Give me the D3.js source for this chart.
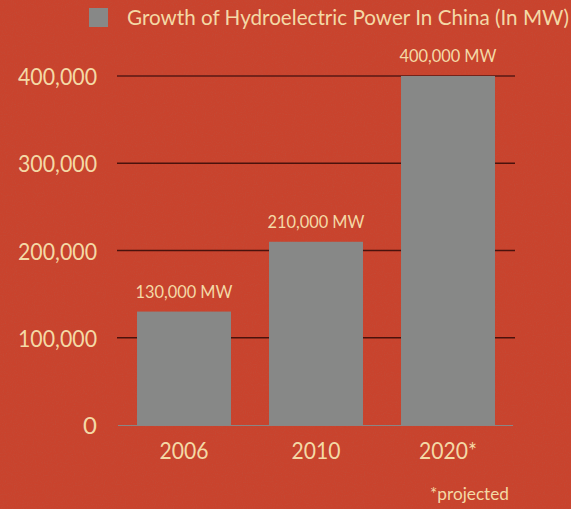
<!DOCTYPE html>
<html>
<head>
<meta charset="utf-8">
<script src="https://cdn.jsdelivr.net/npm/d3@7"></script>
<style>
  html, body { margin: 0; padding: 0; background: #c9432d; }
  svg { display: block; }
  text { font-family: "Lato", "Open Sans", sans-serif; fill: #f4d9a6; }
</style>
</head>
<body>
<script>
// Hydroelectric capacity in China, megawatts
const categories = ["2006", "2010", "2020*"];
const values = [130000, 210000, 400000];
const yTicks = [0, 100000, 200000, 300000, 400000];
const legendLabel = "Growth of Hydroelectric Power In China (In MW)";
const footnote = "*projected";

const W = 571, H = 509;
const svg = d3.select("body").append("svg").attr("width", W).attr("height", H);

// paper-like grain over the red ground
const defs = svg.append("defs");
const grain = defs.append("filter").attr("id", "grain")
  .attr("x", 0).attr("y", 0).attr("width", "100%").attr("height", "100%");
grain.append("feTurbulence").attr("type", "fractalNoise")
  .attr("baseFrequency", 0.9).attr("numOctaves", 2).attr("seed", 4).attr("result", "n");
grain.append("feColorMatrix").attr("type", "matrix")
  .attr("values", "0 0 0 0 0.45  0 0 0 0 0.12  0 0 0 0 0.08  0 0 0 -1.3 0.75");

svg.append("rect").attr("width", W).attr("height", H).attr("fill", "#c9432d");
svg.append("rect").attr("width", W).attr("height", H).attr("filter", "url(#grain)").attr("opacity", 0.35);

const x = d3.scaleBand().domain(categories).range([118, 514]).paddingInner(0.288).paddingOuter(0.144);
const y = d3.scaleLinear().domain([0, 400000]).range([425, 76]);
const fmt = d3.format(",");

// gridlines (behind bars)
svg.append("g").selectAll("line").data(yTicks.filter(t => t > 0)).join("line")
  .attr("x1", 117).attr("x2", 515)
  .attr("y1", d => y(d)).attr("y2", d => y(d))
  .attr("stroke", d => d === 400000 ? "#74231a" : "#4a120c")
  .attr("stroke-width", d => d === 400000 ? 2 : 1.5);

// baseline
svg.append("line").attr("x1", 118).attr("x2", 513)
  .attr("y1", y(0) + 0.5).attr("y2", y(0) + 0.5)
  .attr("stroke", "#8a8685").attr("stroke-width", 1.2);

// y axis labels
const yAxis = d3.axisLeft(y).tickValues(yTicks).tickFormat(fmt).tickSize(0).tickPadding(0);
const ya = svg.append("g").attr("transform", "translate(97,0)").call(yAxis);
ya.select(".domain").remove();
ya.selectAll("text")
  .attr("font-size", 24).attr("fill", "#f4d9a6")
  .attr("font-family", "Lato, sans-serif")
  .attr("dy", "0.36em")
  .each(function(d) {
    if (d > 0) d3.select(this).attr("textLength", 79).attr("lengthAdjust", "spacingAndGlyphs");
  });

// bars
svg.append("g").selectAll("rect").data(values).join("rect")
  .attr("x", (d, i) => x(categories[i]))
  .attr("y", d => y(d))
  .attr("width", x.bandwidth())
  .attr("height", d => y(0) - y(d))
  .attr("fill", "#878887");

// value labels
svg.append("g").selectAll("text").data(values).join("text")
  .attr("x", (d, i) => x(categories[i]) + x.bandwidth() / 2)
  .attr("y", d => y(d) - 14)
  .attr("text-anchor", "middle")
  .attr("font-size", 17.5)
  .attr("textLength", 97).attr("lengthAdjust", "spacingAndGlyphs")
  .text(d => fmt(d) + " MW");

// x axis labels
const xAxis = d3.axisBottom(x).tickSize(0).tickPadding(0);
const xa = svg.append("g").attr("transform", "translate(0,459)").call(xAxis);
xa.select(".domain").remove();
xa.selectAll("text")
  .attr("font-size", 24).attr("fill", "#f4d9a6")
  .attr("font-family", "Lato, sans-serif")
  .attr("dy", 0)
  .attr("textLength", (d) => d.length > 4 ? 58 : 49).attr("lengthAdjust", "spacingAndGlyphs");

// legend
svg.append("rect").attr("x", 89).attr("y", 8).attr("width", 19).attr("height", 19).attr("fill", "#878887");
svg.append("text").attr("x", 127).attr("y", 25).attr("font-size", 20.5)
  .attr("textLength", 442).attr("lengthAdjust", "spacingAndGlyphs")
  .text(legendLabel);

// footnote
svg.append("text").attr("x", 430).attr("y", 500).attr("font-size", 17)
  .attr("textLength", 79).attr("lengthAdjust", "spacingAndGlyphs")
  .text(footnote);
</script>
</body>
</html>
